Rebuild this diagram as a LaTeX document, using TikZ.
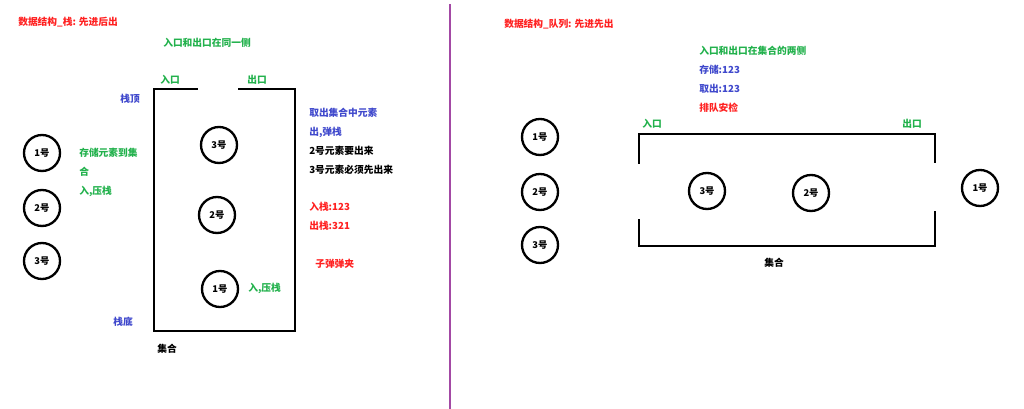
\documentclass[tikz,border=0pt]{standalone}
\usepackage{fontspec}
\setmainfont{Noto Sans CJK SC}
\usetikzlibrary{positioning}
\definecolor{txtred}{HTML}{FF2020}
\definecolor{txtgreen}{HTML}{22B14C}
\definecolor{txtblue}{HTML}{3F48CC}
\definecolor{divpurple}{HTML}{A349A4}

\begin{document}
\begin{tikzpicture}[x=0.75pt,y=-0.75pt,
    roundnode/.style={circle, draw=black, line width=1.75pt, minimum size=27pt, inner sep=0pt, font=\bfseries\fontsize{7}{8}\selectfont},
    note/.style={anchor=west, inner sep=0pt, font=\bfseries\fontsize{7.3}{9}\selectfont},
    wall/.style={line width=2pt, line cap=rect},]
    \useasboundingbox (0,0) rectangle (1024,409);
    % stack: labels
    \node[note, txtred]   (stitle)  at (18,22)   {数据结构\_栈: 先进后出};
    \node[note, txtgreen] (sside)   at (163,43)  {入口和出口在同一侧};
    \node[note, txtgreen] (sin)     at (160,80)  {入口};
    \node[note, txtgreen] (sout)    at (247,80)  {出口};
    \node[note, txtblue]  (stop)    at (120,99)  {栈顶};
    \node[note, txtblue]  (sbottom) at (113,322) {栈底};
    \node[note]           (sset)    at (157,349) {集合};
    \node[note, txtgreen] (spush1)  at (79,153)  {存储元素到集};
    \node[note, txtgreen] (spush2)  at (79,172)  {合};
    \node[note, txtgreen] (spush3)  at (79,191)  {入,压栈};
    \node[note, txtgreen] (spush4)  at (248,288) {入,压栈};
    \node[note, txtblue]  (spop1)   at (309,113) {取出集合中元素};
    \node[note, txtblue]  (spop2)   at (309,132) {出,弹栈};
    \node[note]           (spop3)   at (309,151) {2号元素要出来};
    \node[note]           (spop4)   at (309,170) {3号元素必须先出来};
    \node[note, txtred]   (sord1)   at (309,207) {入栈:123};
    \node[note, txtred]   (sord2)   at (309,226) {出栈:321};
    \node[note, txtred]   (sclip)   at (315,264) {子弹弹夹};
    % stack: elements
    \node[roundnode] (a1) at (42,153)  {1号};
    \node[roundnode] (a2) at (42,208)  {2号};
    \node[roundnode] (a3) at (42,261)  {3号};
    \node[roundnode] (b3) at (219,145) {3号};
    \node[roundnode] (b2) at (217,215) {2号};
    \node[roundnode] (b1) at (220,289) {1号};
    % stack: box
    \draw[wall] (197,89) -- (154,89) -- (154,331) -- (295,331) -- (295,89) -- (239,89);
    % divider
    \draw[divpurple, line width=1.5pt] (450,4) -- (450,409);
    % queue: labels
    \node[note, txtred]   (qtitle)  at (504,24)  {数据结构\_队列: 先进先出};
    \node[note, txtgreen] (qside)   at (699,51)  {入口和出口在集合的两侧};
    \node[note, txtblue]  (qin1)    at (699,70)  {存储:123};
    \node[note, txtblue]  (qout1)   at (699,89)  {取出:123};
    \node[note, txtred]   (qline)   at (699,108) {排队安检};
    \node[note, txtgreen] (qin)     at (642,124) {入口};
    \node[note, txtgreen] (qout)    at (902,124) {出口};
    \node[note]           (qset)    at (764,263) {集合};
    % queue: elements
    \node[roundnode] (c1) at (540,137) {1号};
    \node[roundnode] (c2) at (540,192) {2号};
    \node[roundnode] (c3) at (540,245) {3号};
    \node[roundnode] (d3) at (707,191) {3号};
    \node[roundnode] (d2) at (811,193) {2号};
    \node[roundnode] (e1) at (980,188) {1号};
    % queue: box
    \draw[wall] (639,163) -- (639,134) -- (935,134) -- (935,162);
    \draw[wall] (639,220) -- (639,246) -- (935,246) -- (935,212);
\end{tikzpicture}
\end{document}
